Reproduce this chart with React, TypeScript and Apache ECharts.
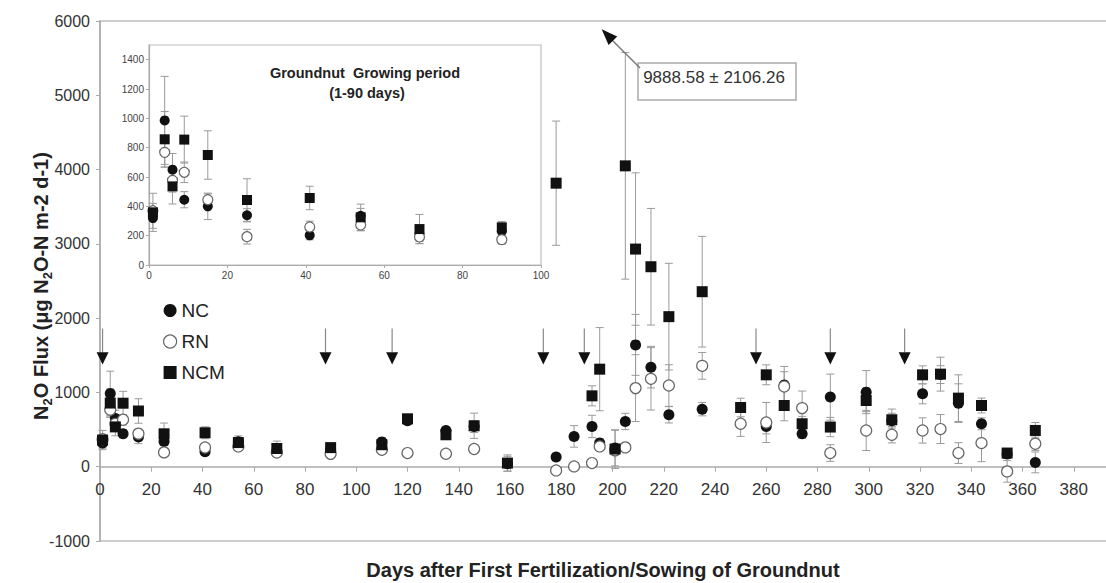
import React, { useEffect, useRef } from "react";
import * as echarts from "echarts";

// ---------- data ----------
const ncDays = [1, 4, 6, 9, 15, 25, 41, 54, 69, 90, 110, 120, 135, 146, 159, 178, 185, 192, 195, 201, 205, 209, 215, 222, 235, 260, 267, 274, 285, 299, 309, 321, 328, 335, 344, 354, 365];
const ncFlux = [320, 986, 650, 445, 400, 339, 202, 336, 210, 230, 332, 620, 488, 540, 40, 130, 408, 542, 318, 251, 609, 1640, 1340, 699, 775, 542, 1100, 444, 937, 1004, 620, 981, 1240, 856, 578, 170, 58];
const ncSE = [70, 300, 110, 55, 90, 45, 30, 50, 50, 30, 60, 40, 40, 80, 100, 50, 145, 150, 60, 240, 110, 410, 280, 110, 90, 100, 250, 60, 310, 290, 100, 134, 120, 260, 80, 60, 140];

const rnDays = [1, 4, 6, 9, 15, 25, 41, 54, 69, 90, 110, 120, 135, 146, 178, 185, 192, 195, 201, 205, 209, 215, 222, 235, 250, 260, 267, 274, 285, 299, 309, 321, 328, 335, 344, 354, 365];
const rnFlux = [370, 768, 577, 632, 445, 193, 259, 273, 191, 173, 228, 184, 175, 238, -50, 4, 49, 273, 220, 260, 1058, 1183, 1093, 1358, 578, 595, 1079, 789, 184, 488, 430, 488, 507, 184, 318, -63, 309];
const rnSE = [50, 100, 80, 70, 40, 50, 40, 40, 45, 30, 40, 30, 50, 50, 40, 30, 40, 50, 60, 50, 450, 420, 280, 180, 170, 270, 200, 230, 112, 270, 110, 170, 195, 140, 250, 145, 90];

const ncmDays = [1, 4, 6, 9, 15, 25, 41, 54, 69, 90, 110, 120, 135, 146, 159, 178, 192, 195, 201, 205, 209, 215, 222, 235, 250, 260, 267, 274, 285, 299, 309, 321, 328, 335, 344, 354, 365];
const ncmFlux = [359, 857, 536, 855, 750, 443, 457, 325, 245, 257, 296, 645, 430, 551, 49, 3817, 954, 1313, 238, 4050, 2930, 2692, 2020, 2356, 797, 1237, 824, 578, 534, 891, 632, 1237, 1246, 923, 824, 184, 488];
const ncmSE = [130, 190, 120, 160, 165, 145, 80, 90, 100, 40, 60, 50, 60, 170, 110, 836, 135, 560, 260, 1525, 1026, 785, 718, 745, 125, 134, 206, 100, 130, 150, 144, 121, 228, 314, 100, 60, 107];

// fertilization / sowing events (arrows)
const fertDays = [1, 88, 114, 173, 189, 256, 285, 314];

const mainXTicks = { min: 0, max: 400, interval: 20 };
const mainYTicks = { min: -1000, max: 6000, interval: 1000 };
const insetXTicks = { min: 0, max: 100, interval: 20 };
const insetYTicks = { min: 0, max: 1500, interval: 200 };
const insetMaxDay = 100;

const offChartNote = "9888.58 ± 2106.26";

// ---------- helpers ----------
const FONT = "'Liberation Sans', Arial, Helvetica, sans-serif";

const triples = (days: number[], flux: number[], se: number[]) =>
  days.map((d, i) => [d, flux[i], se[i]]);

const ARROW_TOP = 1860;
const ARROW_HEAD = 1540;
const ARROW_TIP = 1375;

// main plot layout
const MAIN_TOP = 21;
const MAIN_HEIGHT = 520;
const ZERO_OFFSET = -(MAIN_HEIGHT * (0 - mainYTicks.min)) / (mainYTicks.max - mainYTicks.min);

function errorBarRender(cap: number) {
  return (params: any, api: any) => {
    const x = api.value(0);
    const y = api.value(1);
    const e = api.value(2);
    const top = api.coord([x, y + e]);
    const bot = api.coord([x, y - e]);
    const style = { stroke: "#9a9a9a", lineWidth: 1, fill: null };
    return {
      type: "group",
      children: [
        { type: "line", shape: { x1: top[0], y1: top[1], x2: bot[0], y2: bot[1] }, style },
        { type: "line", shape: { x1: top[0] - cap, y1: top[1], x2: top[0] + cap, y2: top[1] }, style },
        { type: "line", shape: { x1: bot[0] - cap, y1: bot[1], x2: bot[0] + cap, y2: bot[1] }, style },
      ],
    };
  };
}

const styles: Record<string, any> = {
  NC: { symbol: "circle", itemStyle: { color: "#111", opacity: 1 } },
  RN: { symbol: "circle", itemStyle: { color: "#fff", borderColor: "#666", borderWidth: 1.2, opacity: 1 } },
  NCM: { symbol: "rect", itemStyle: { color: "#111", opacity: 1 } },
};

const groups = [
  { name: "NC", data: triples(ncDays, ncFlux, ncSE) },
  { name: "RN", data: triples(rnDays, rnFlux, rnSE) },
  { name: "NCM", data: triples(ncmDays, ncmFlux, ncmSE) },
];

function buildSeries(axisIndex: number, filter: (d: number[]) => boolean, size: number, cap: number) {
  const errs = groups.map((g) => ({
    type: "custom",
    name: g.name + "-err" + axisIndex,
    xAxisIndex: axisIndex,
    yAxisIndex: axisIndex,
    silent: true,
    z: 2,
    encode: { x: 0, y: 1 },
    data: g.data.filter(filter),
    renderItem: errorBarRender(cap),
  }));
  const pts = groups.map((g, i) => ({
    type: "scatter",
    name: g.name,
    xAxisIndex: axisIndex,
    yAxisIndex: axisIndex,
    symbol: styles[g.name].symbol,
    symbolSize: size,
    itemStyle: styles[g.name].itemStyle,
    z: 3 + i,
    silent: true,
    data: g.data.filter(filter).map((r) => [r[0], r[1]]),
  }));
  return [...errs, ...pts];
}

const numFmt = (v: number) => String(v);

function buildOption() {
  const axisLineStyle = { color: "#aaaaaa", width: 1.5 };
  return {
    animation: false,
    textStyle: { fontFamily: FONT },
    grid: [
      {
        left: 100, width: 1025, top: MAIN_TOP, height: MAIN_HEIGHT, containLabel: false, outerBoundsMode: "none",
        show: true, borderColor: "#bdbdbd", borderWidth: 1.5,
      },
      {
        left: 149, top: 45, width: 392, height: 220, containLabel: false, outerBoundsMode: "none",
        show: true, borderColor: "#bdbdbd", borderWidth: 1.2,
      },
    ],
    xAxis: [
      {
        gridIndex: 0,
        type: "value",
        position: "bottom",
        offset: ZERO_OFFSET,
        ...mainXTicks,
        axisLine: { onZero: false, lineStyle: axisLineStyle },
        axisTick: { show: true, length: 5, lineStyle: { color: "#aaa" } },
        axisLabel: { fontSize: 17, color: "#333", margin: 14, fontFamily: FONT, formatter: numFmt, showMaxLabel: false },
        splitLine: { show: false },
      },
      {
        gridIndex: 1,
        type: "value",
        ...insetXTicks,
        axisLine: { onZero: false, lineStyle: { color: "#aaa", width: 1.2 } },
        axisTick: { show: true, length: 3, lineStyle: { color: "#aaa" } },
        axisLabel: { fontSize: 10, color: "#444", margin: 5, fontFamily: FONT, formatter: numFmt },
        splitLine: { show: false },
      },
    ],
    yAxis: [
      {
        gridIndex: 0,
        type: "value",
        ...mainYTicks,
        axisLine: { show: true, onZero: false, lineStyle: axisLineStyle },
        axisTick: { show: true, length: 4, lineStyle: { color: "#aaa" } },
        axisLabel: { fontSize: 16, color: "#333", margin: 10, fontFamily: FONT, formatter: numFmt },
        splitLine: { show: false },
      },
      {
        gridIndex: 1,
        type: "value",
        ...insetYTicks,
        axisLine: { show: true, onZero: false, lineStyle: { color: "#aaa", width: 1.2 } },
        axisTick: { show: true, length: 3, lineStyle: { color: "#aaa" } },
        axisLabel: { fontSize: 10, color: "#444", margin: 5, fontFamily: FONT, formatter: numFmt, showMaxLabel: false },
        splitLine: { show: false },
      },
    ],
    legend: {
      orient: "vertical",
      left: 158,
      top: 296,
      itemWidth: 13,
      itemHeight: 13,
      itemGap: 12,
      selectedMode: false,
      textStyle: { fontSize: 19, color: "#222", fontFamily: FONT },
      data: [
        { name: "NC", icon: "circle", itemStyle: { color: "#111", opacity: 1 } },
        { name: "RN", icon: "circle", itemStyle: { color: "#fff", borderColor: "#666", borderWidth: 1.2, opacity: 1 } },
        { name: "NCM", icon: "rect", itemStyle: { color: "#111", opacity: 1 } },
      ],
    },
    series: [
      ...buildSeries(0, () => true, 11, 4),
      {
        type: "custom",
        name: "fertilization",
        xAxisIndex: 0,
        yAxisIndex: 0,
        silent: true,
        z: 6,
        encode: { x: 0, y: 1 },
        data: fertDays.map((d) => [d, ARROW_TIP]),
        renderItem: (params: any, api: any) => {
          const d = api.value(0);
          const top = api.coord([d, ARROW_TOP]);
          const head = api.coord([d, ARROW_HEAD]);
          const tip = api.coord([d, ARROW_TIP]);
          return {
            type: "group",
            children: [
              { type: "line", shape: { x1: top[0], y1: top[1], x2: head[0], y2: head[1] }, style: { stroke: "#888", lineWidth: 1.2 } },
              {
                type: "polygon",
                shape: { points: [[head[0] - 6, head[1]], [head[0] + 6, head[1]], [tip[0], tip[1]]] },
                style: { fill: "#111" },
              },
            ],
          };
        },
      },
      ...buildSeries(1, (r) => r[0] <= insetMaxDay, 10, 4),
    ],
    graphic: [
      {
        type: "text",
        x: 41,
        y: 286,
        rotation: Math.PI / 2,
        style: {
          text: "{b|N}{s|2}{b|O Flux (μg N}{s|2}{b|O-N m-2 d-1)}",
          align: "center",
          verticalAlign: "middle",
          fill: "#222",
          font: `bold 20px ${FONT}`,
          rich: {
            b: { fontSize: 20, fontWeight: "bold", fontFamily: FONT, fill: "#222", verticalAlign: "bottom" },
            s: { fontSize: 13, fontWeight: "bold", fontFamily: FONT, fill: "#222", verticalAlign: "bottom", padding: [0, 0, -3, 0] },
          },
        },
      },
      {
        type: "text",
        x: 603,
        y: 570,
        style: {
          text: "Days after First Fertilization/Sowing of Groundnut",
          align: "center",
          verticalAlign: "middle",
          fill: "#222",
          font: `bold 20px ${FONT}`,
        },
      },
      {
        type: "text",
        x: 365,
        y: 73,
        style: { text: "Groundnut  Growing period", align: "center", verticalAlign: "middle", fill: "#222", font: `bold 14.5px ${FONT}` },
      },
      {
        type: "text",
        x: 367,
        y: 93,
        style: { text: "(1-90 days)", align: "center", verticalAlign: "middle", fill: "#222", font: `bold 14.5px ${FONT}` },
      },
      {
        type: "rect",
        shape: { x: 638, y: 63, width: 158, height: 37 },
        style: { fill: "#fff", stroke: "#aaa", lineWidth: 1.5 },
        z: 10,
      },
      {
        type: "text",
        x: 714,
        y: 77,
        z: 11,
        style: { text: offChartNote, align: "center", verticalAlign: "middle", fill: "#333", font: `17px ${FONT}` },
      },
      {
        type: "line",
        shape: { x1: 640, y1: 68, x2: 612, y2: 40 },
        style: { stroke: "#777", lineWidth: 1.5 },
        z: 10,
      },
      {
        type: "polygon",
        shape: { points: [[601.7, 29.3], [608.6, 44.9], [617.2, 36.5]] },
        style: { fill: "#111" },
        z: 10,
      },
    ],
  };
}

export default function App() {
  const ref = useRef<HTMLDivElement>(null);
  useEffect(() => {
    document.body.style.margin = "0";
    const chart = echarts.init(ref.current as HTMLDivElement, null, { renderer: "svg" });
    chart.setOption(buildOption() as any);
    return () => chart.dispose();
  }, []);
  return <div ref={ref} style={{ width: 1106, height: 583, background: "#fff" }} />;
}
